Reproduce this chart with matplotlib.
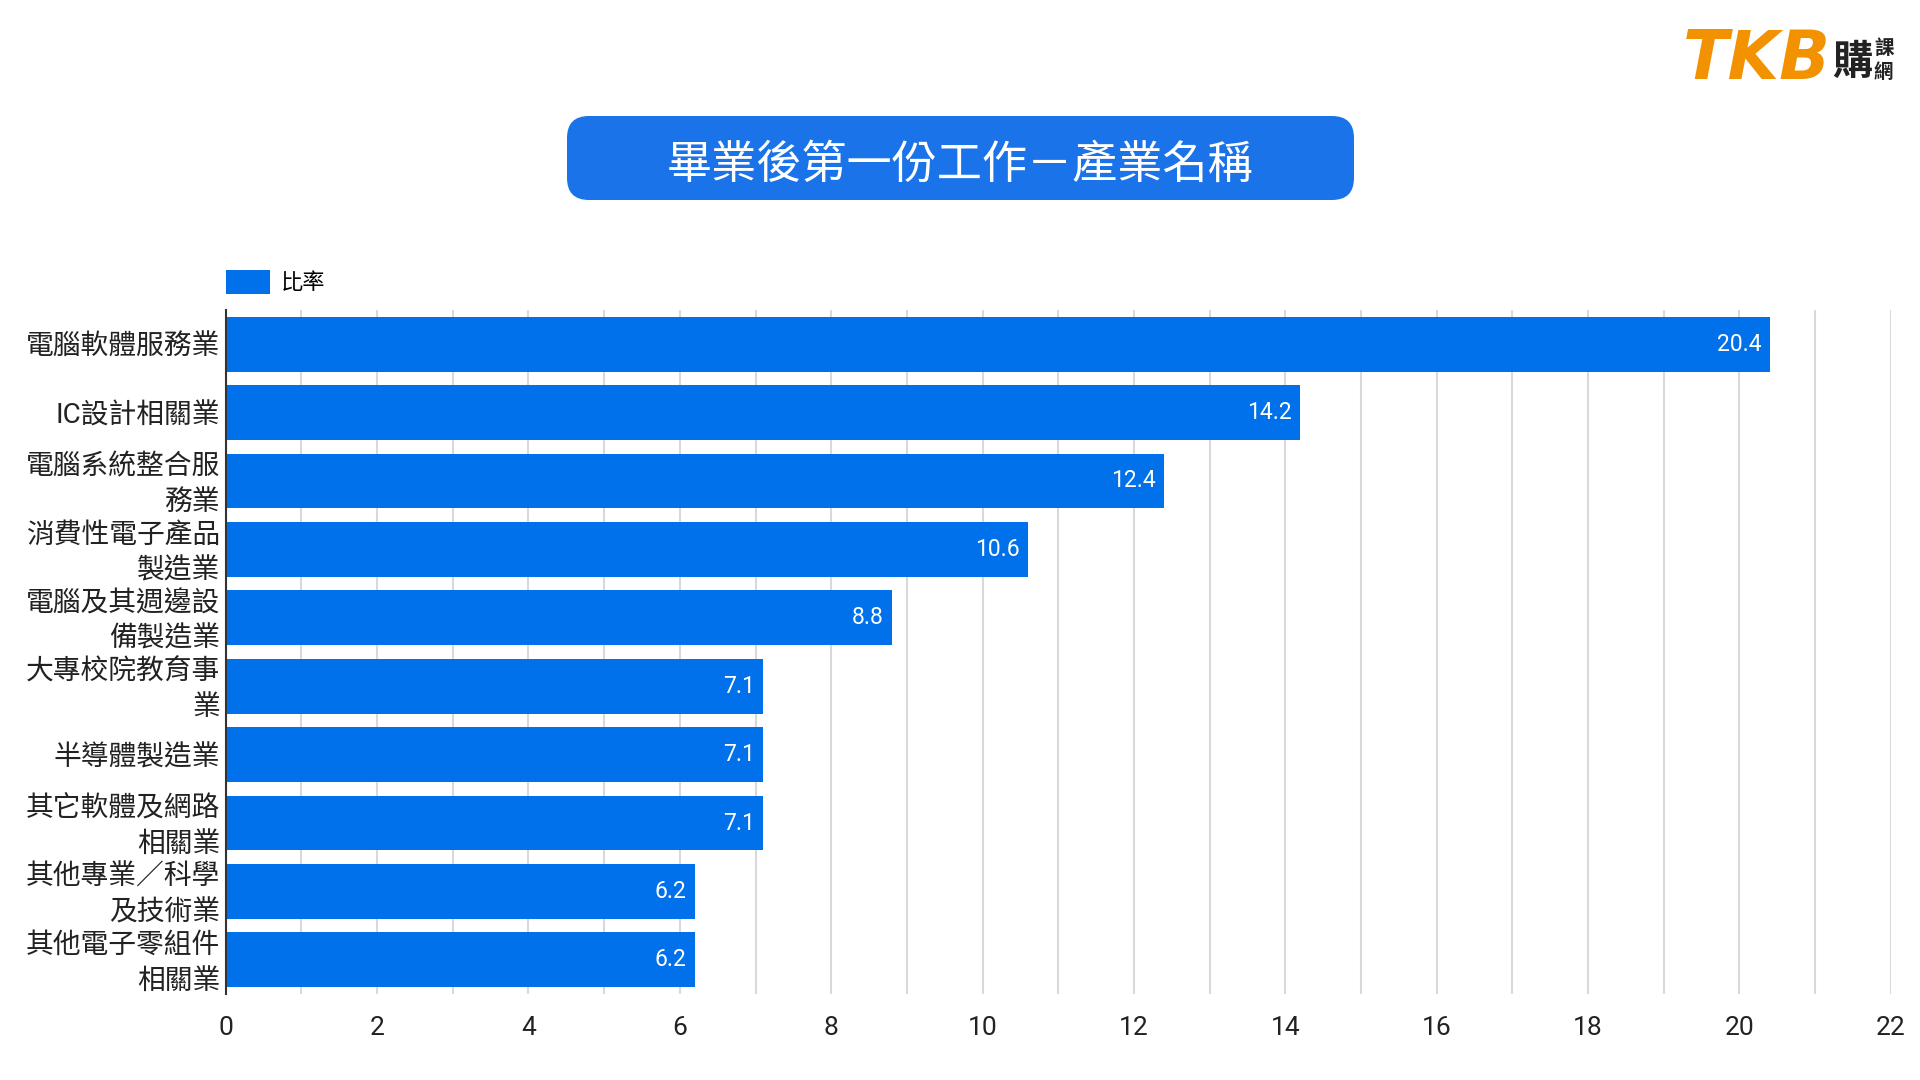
import matplotlib
matplotlib.use("Agg")
import matplotlib.pyplot as plt
from matplotlib.patches import FancyBboxPatch
from matplotlib.transforms import IdentityTransform

plt.rcParams['font.family'] = ['Roboto', 'Noto Sans CJK TC', 'DejaVu Sans']

title = "畢業後第一份工作－產業名稱"
series_name = "比率"
categories = [
    "電腦軟體服務業",
    "IC設計相關業",
    "電腦系統整合服\n務業",
    "消費性電子產品\n製造業",
    "電腦及其週邊設\n備製造業",
    "大專校院教育事\n業",
    "半導體製造業",
    "其它軟體及網路\n相關業",
    "其他專業／科學\n及技術業",
    "其他電子零組件\n相關業",
]
values = [20.4, 14.2, 12.4, 10.6, 8.8, 7.1, 7.1, 7.1, 6.2, 6.2]
x_ticks = list(range(0, 23, 2))

bar_color = '#0071EB'
text_color = '#222222'

fig = plt.figure(figsize=(19.2, 10.8), dpi=100)
ax = fig.add_axes([0.1176, 0.0796, 0.8671, 0.6334])

pos = list(range(len(categories)))
ax.barh(pos, values, height=0.8, color=bar_color, label=series_name, zorder=3)

for i, v in enumerate(values):
    ax.annotate(f"{v}", xy=(v, i), xytext=(-6, 0), textcoords='offset points',
                ha='right', va='center', color='white', fontsize=16.5, zorder=4)

ax.set_ylim(len(categories) - 0.5, -0.5)
ax.set_xlim(0, 22)
# ticks sit a hair below bar centres so the CJK glyphs look centred
ax.set_yticks([p + 0.05 for p in pos])
ax.set_yticklabels(categories, fontsize=20, color=text_color, linespacing=1.4, va='center')
ax.set_xticks(x_ticks)
ax.set_xticks(range(0, 23), minor=True)
ax.tick_params(axis='x', which='both', length=0, labelsize=19, colors=text_color, pad=16)
ax.tick_params(axis='y', length=0, pad=4)
ax.grid(axis='x', which='both', color='#d9d9d9', linewidth=1.5, zorder=0)
ax.set_axisbelow(True)

for s in ['top', 'right', 'bottom']:
    ax.spines[s].set_visible(False)
ax.spines['left'].set_color('#333333')
ax.spines['left'].set_linewidth(1.5)
ax.spines['left'].set_zorder(5)

ax.legend(loc='lower left', bbox_to_anchor=(-0.0095, 1.0), frameon=False,
          fontsize=16, handlelength=2.0, handleheight=1.3, handletextpad=0.5,
          borderpad=0, borderaxespad=0.7)

# title box (pixel coords)
box = FancyBboxPatch((567, 880), 787, 84, boxstyle='round,pad=0,rounding_size=22',
                     transform=IdentityTransform(), facecolor='#1A73E8',
                     edgecolor='none', figure=fig)
fig.patches.append(box)
fig.text(0.5, 915 / 1080, title, ha='center', va='center', color='white',
         fontsize=32.5, fontfamily=['Noto Sans CJK TC'])

# logo
fig.text(1831 / 1920, 1020 / 1080, "TKB", ha='right', va='center', color='#F39200',
         fontsize=48, fontweight='black', fontstyle='italic', fontfamily=['DejaVu Sans'])
fig.text(1832 / 1920, 1018 / 1080, "購", ha='left', va='center', color='#222222',
         fontsize=29, fontweight='bold', fontfamily=['Noto Sans CJK TC'])
fig.text(1874 / 1920, 1032 / 1080, "課", ha='left', va='center', color='#222222',
         fontsize=14, fontweight='bold', fontfamily=['Noto Sans CJK TC'])
fig.text(1874 / 1920, 1008 / 1080, "網", ha='left', va='center', color='#222222',
         fontsize=14, fontweight='bold', fontfamily=['Noto Sans CJK TC'])

fig.savefig("out.png", dpi=100, facecolor='white')
